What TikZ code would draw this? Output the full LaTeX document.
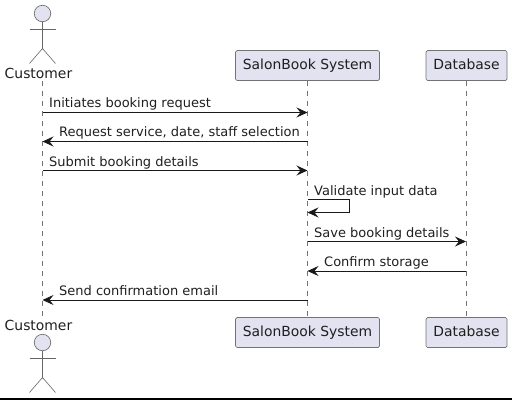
\documentclass[tikz,border=0pt]{standalone}
\usepackage{fontspec}
\setmainfont{DejaVu Sans}
\usetikzlibrary{arrows.meta}
\begin{document}
\begin{tikzpicture}[
	x=1pt, y=-1pt,
	>={Stealth[length=11pt, width=10pt, inset=4pt]},
	every node/.style={font=\fontsize{13}{15}\selectfont, text=black!88},
	party/.style={draw=black!55, fill=umlfill, rounded corners=1.5pt, line width=0.7pt, minimum height=30pt, inner sep=0pt, font=\fontsize{13.9}{16}\selectfont, text height=10.5pt, text depth=3pt},
	actorname/.style={inner sep=0pt, minimum height=15pt, font=\fontsize{13.9}{16}\selectfont},
	actorline/.style={draw=black!60, line width=0.6pt},
	lifeline/.style={draw=black!55, line width=0.7pt, dash pattern=on 5pt off 5pt},
	msg/.style={draw=black!90, line width=0.8pt, ->},
	msglabel/.style={anchor=base west, inner sep=0pt}
	]
	\definecolor{umlfill}{HTML}{E2E2F0}
	\useasboundingbox (0,0) rectangle (512,400);

	% participants, top and bottom
	\node[party, minimum width=144pt] (sysTop) at (307.5,65.5) {SalonBook System};
	\node[party, minimum width=81pt] (dbTop) at (466.5,65.5) {Database};
	\node[party, minimum width=144pt] (sysBot) at (307.5,332.5) {SalonBook System};
	\node[party, minimum width=81pt] (dbBot) at (466.5,332.5) {Database};
	\node[actorname] (custTop) at (38.5,73) {Customer};
	\node[actorname] (custBot) at (38.5,325) {Customer};
	\coordinate (lifeTop) at (42.5,81);
	\coordinate (lifeBot) at (42.5,317);

	% actor figures
	\foreach \name/\y in {headTop/13.5, headBot/342.5} {
		\node[circle, draw=black!60, fill=umlfill, line width=0.6pt, minimum size=16.5pt, inner sep=0pt] (\name) at (42.5,\y) {};
	}
	\foreach \name/\y in {Top/13.5, Bot/342.5} {
		\coordinate (arml\name) at (29.5,\y+15.5);
		\coordinate (armr\name) at (55.5,\y+15.5);
		\coordinate (hip\name) at (42.5,\y+35);
		\coordinate (footl\name) at (29.5,\y+50);
		\coordinate (footr\name) at (55.5,\y+50);
		\draw[actorline] (head\name) -- (hip\name);
		\draw[actorline] (arml\name) -- (armr\name);
		\draw[actorline] (footl\name) -- (hip\name) -- (footr\name);
	}

	% lifelines
	\draw[lifeline] (lifeTop) -- (lifeBot);
	\draw[lifeline] (sysTop) -- (sysBot);
	\draw[lifeline] (dbTop) -- (dbBot);

	% message ends on the lifelines
	\foreach \i/\y in {1/112.5, 2/141.5, 3/170.5, 4/199.5, 5/212.5, 6/241.5, 7/271, 8/300} {
		\coordinate (c\i) at (42.5,\y);
		\coordinate (s\i) at (307.5,\y);
		\coordinate (d\i) at (466,\y);
	}
	\coordinate (loopa) at (349.5,199.5);
	\coordinate (loopb) at (349.5,212.5);

	\draw[msg] (c1) -- (s1);
	\draw[msg] (s2) -- (c2);
	\draw[msg] (c3) -- (s3);
	\draw[msg] (s4) -- (loopa) -- (loopb) -- (s5);
	\draw[msg] (s6) -- (d6);
	\draw[msg] (d7) -- (s7);
	\draw[msg] (s8) -- (c8);

	\node[msglabel] (m1) at (49,107) {Initiates booking request};
	\node[msglabel] (m2) at (59,136) {Request service, date, staff selection};
	\node[msglabel] (m3) at (49,166) {Submit booking details};
	\node[msglabel] (m4) at (314,195) {Validate input data};
	\node[msglabel] (m5) at (314,237) {Save booking details};
	\node[msglabel] (m6) at (324,266) {Confirm storage};
	\node[msglabel] (m7) at (59,295) {Send confirmation email};

	% black edge along the bottom
	\fill[black] (0,398) rectangle (512,400);
\end{tikzpicture}
\end{document}
